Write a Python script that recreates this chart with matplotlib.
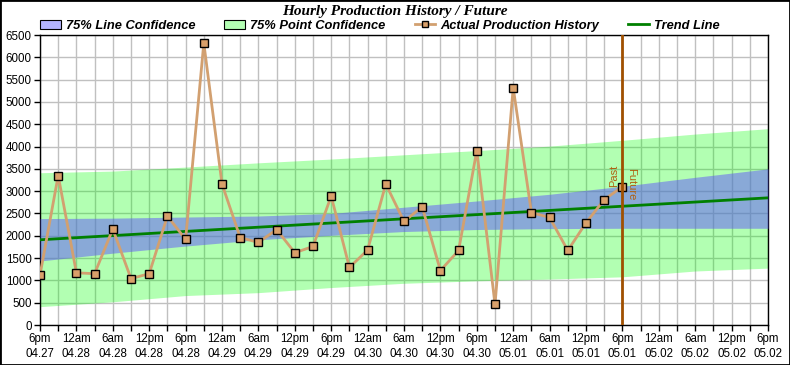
import numpy as np
import matplotlib
matplotlib.use('agg')
import matplotlib.pyplot as plt
from matplotlib.patches import Patch, Rectangle
from matplotlib.lines import Line2D

# hours since 6pm 04.27, one reading every 3 hours up to 6pm 05.01
hist_hours = list(range(0, 97, 3))
production = [1120, 3350, 1170, 1150, 2150, 1040, 1150, 2440, 1920, 6320,
              3160, 1960, 1850, 2140, 1620, 1760, 2890, 1290, 1680, 3160,
              2320, 2650, 1220, 1670, 3910, 460, 5320, 2520, 2410, 1670,
              2290, 2810, 3100]

trend_hours = [0, 120]
trend_vals = [1910, 2850]

band_hours = [0, 12, 24, 36, 48, 60, 72, 84, 96, 108, 120]
line_hi = [2385, 2395, 2420, 2443, 2500, 2640, 2780, 2930, 3110, 3310, 3500]
line_lo = [1435, 1610, 1770, 1910, 2010, 2095, 2140, 2160, 2168, 2168, 2168]
point_hi = [3413, 3450, 3540, 3635, 3720, 3815, 3910, 4010, 4140, 4280, 4400]
point_lo = [411, 520, 660, 725, 840, 935, 990, 1030, 1080, 1210, 1275]

tick_labels = ['6pm\n04.27', '12am\n04.28', '6am\n04.28', '12pm\n04.28', '6pm\n04.28',
               '12am\n04.29', '6am\n04.29', '12pm\n04.29', '6pm\n04.29',
               '12am\n04.30', '6am\n04.30', '12pm\n04.30', '6pm\n04.30',
               '12am\n05.01', '6am\n05.01', '12pm\n05.01', '6pm\n05.01',
               '12am\n05.02', '6am\n05.02', '12pm\n05.02', '6pm\n05.02']
now_hour = 96

fig = plt.figure(figsize=(7.9, 3.65), dpi=100)
ax = fig.add_axes([40/790, 1-325/365, 728/790, 290/365])

ax.fill_between(band_hours, point_lo, point_hi, color=(0.0, 1.0, 0.0), alpha=0.3,
                linewidth=0, zorder=2)
ax.fill_between(band_hours, line_lo, line_hi, color=(0.38, 0.33, 0.99), alpha=0.5,
                linewidth=0, zorder=3)
ax.plot(trend_hours, trend_vals, color='#008000', lw=2, zorder=4)
ax.plot(hist_hours, production, color='#D2A070', lw=2, marker='s', ms=5.5,
        mfc='#D9A06A', mec='black', mew=1, zorder=5)
ax.axvline(now_hour, color='#A05000', lw=2, zorder=6)
ax.text(now_hour - 0.6, 3100, 'Past', rotation=90, ha='right', va='bottom',
        color='#B06010', fontsize=8, family='Liberation Sans', zorder=7)
ax.text(now_hour + 0.6, 3530, 'Future', rotation=270, ha='left', va='top',
        color='#B06010', fontsize=8, family='Liberation Sans', zorder=7)

ax.set_xlim(0, 120)
ax.set_ylim(0, 6500)
ax.set_xticks(range(0, 121, 6))
ax.set_xticklabels(tick_labels, linespacing=1.35)
ax.set_xticks(range(0, 121, 3), minor=True)
ax.set_yticks(range(0, 6501, 500))
ax.grid(True, which='both', color='#C0C0C0', lw=1, zorder=1)
ax.set_axisbelow(True)
ax.tick_params(which='both', direction='out', length=4, width=1, color='black',
               labelsize=8.3, pad=2)
for lab in ax.get_xticklabels() + ax.get_yticklabels():
    lab.set_family('Liberation Sans')
for s in ax.spines.values():
    s.set_color('black')
    s.set_linewidth(1)

fig.text(0.5, 1-11/365, 'Hourly Production History / Future', ha='center', va='center',
         family='Liberation Serif', weight='bold', style='italic', fontsize=11)

handles = [Patch(facecolor='#B4B4FF', edgecolor='black', lw=0.8),
           Patch(facecolor='#B4FFB4', edgecolor='black', lw=0.8),
           Line2D([], [], color='#D2A070', lw=2, marker='s', ms=5, mfc='#D9A06A',
                  mec='black', mew=1),
           Line2D([], [], color='#008000', lw=2)]
labels = ['75% Line Confidence', '75% Point Confidence', 'Actual Production History',
          'Trend Line']
fig.legend(handles, labels, ncol=4, loc='center left', bbox_to_anchor=(40/790, 1-26/365),
           frameon=False, prop={'family': 'Liberation Sans', 'weight': 'bold',
                                'style': 'italic', 'size': 9.3},
           handlelength=1.6, handleheight=0.7, handletextpad=0.4, columnspacing=2.25,
           borderpad=0, borderaxespad=0)

fig.patches.append(Rectangle((0, 0), 1, 1, transform=fig.transFigure, fill=False,
                             edgecolor='black', lw=2))
fig.savefig('out.png', dpi=100)
